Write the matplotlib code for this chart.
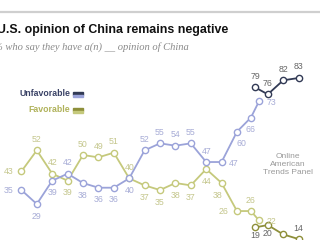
import matplotlib.pyplot as plt

# Pew survey data, phone surveys 2005-2020 and online panel 2020-2023
phone_years = [2005, 2006, 2007, 2008, 2009, 2010, 2011, 2012, 2013, 2014,
               2015, 2016, 2017, 2018, 2019, 2019.9, 2020.43]
unfav_phone = [35, 29, 39, 42, 38, 36, 36, 40, 52, 55, 54, 55, 47, 47, 60, 66, 73]
fav_phone = [43, 52, 42, 39, 50, 49, 51, 40, 37, 35, 38, 37, 44, 38, 26, 26, 22]

online_years = [2020.17, 2021, 2022, 2023]
unfav_online = [79, 76, 82, 83]
fav_online = [19, 20, 16, 14]

# label placement per point (None = label falls outside the crop)
unfav_phone_pos = ["l", "b", "b", "a", "b", "b", "b", "b", "a", "a", "a", "a",
                   "a", "r", "br", "b", "r"]
fav_phone_pos = ["l", "a", "a", "b", "a", "a", "a", "a", "b", "b", "b", "b",
                 "b", "bl", "l", "a", "r"]
unfav_online_pos = ["a", "a", "a", "a"]
fav_online_pos = ["bs", "bs", None, "a"]

offsets = {"a": (0, 11), "b": (0, -12), "l": (-13, 0), "r": (12, -1),
           "br": (4, -12), "bl": (-4, -12), "bs": (0, -8)}

c_unfav = "#9ba3d9"
c_fav = "#c5c97c"
c_unfav_on = "#323a55"
c_fav_on = "#8e8f3a"

fig = plt.figure(figsize=(3.2, 2.4), dpi=100)
ax = fig.add_axes([0, 0, 1, 1])
ax.set_xlim(2003.61, 2024.39)
ax.set_ylim(13.6, 116.4)
ax.axis("off")


def draw(xs, ys, color, poss, lab_color):
    ax.plot(xs, ys, color=color, lw=1.3, marker="o", ms=4.5,
            mfc="white", mec=color, mew=1.0, zorder=3)
    for x, y, p in zip(xs, ys, poss):
        if p is None:
            continue
        ax.annotate(str(y), (x, y), xytext=offsets[p], textcoords="offset pixels",
                    ha="center", va="center", fontsize=6.3, color=lab_color,
                    family="Liberation Sans", zorder=4)


draw(phone_years, fav_phone, c_fav, fav_phone_pos, "#c4c68c")
draw(phone_years, unfav_phone, c_unfav, unfav_phone_pos, "#a7acd6")
draw(online_years, fav_online, c_fav_on, fav_online_pos, "#666666")
draw(online_years, unfav_online, c_unfav_on, unfav_online_pos, "#666666")

W, H = 320, 240


def px(x, y):
    return x / W, 1 - y / H


# top rule
fig.add_artist(plt.Line2D([0, 1], [1 - 12 / H, 1 - 12 / H], color="#cfcfcf", lw=1.6))

fig.text(*px(-3, 30), "U.S. opinion of China remains negative", fontsize=8.9,
         fontweight="bold", family="Liberation Sans", va="center", color="#111111")
fig.text(*px(-6, 47), "% who say they have a(n) __ opinion of China", fontsize=7.6,
         style="italic", family="Liberation Serif", va="center", color="#8a8a8a")

# legend
fig.text(*px(70, 94), "Unfavorable", fontsize=6.3, fontweight="bold",
         family="Liberation Sans", ha="right", va="center", color="#3a4266")
fig.text(*px(70, 110), "Favorable", fontsize=6.3, fontweight="bold",
         family="Liberation Sans", ha="right", va="center", color="#b0b25a")
for y0, top, bot in [(92, c_unfav_on, c_unfav), (108, c_fav_on, c_fav)]:
    fig.add_artist(plt.Rectangle(px(73, y0 + 2.5), 10 / W, 2.5 / H, color=top))
    fig.add_artist(plt.Rectangle(px(73, y0 + 5), 10 / W, 2.5 / H, color=bot))

fig.text(*px(288, 165), "Online\nAmerican\nTrends Panel", fontsize=6, ha="center",
         va="center", color="#9a9a9a", family="Liberation Sans", linespacing=1.2)

fig.savefig("out.png", dpi=100, facecolor="white")
